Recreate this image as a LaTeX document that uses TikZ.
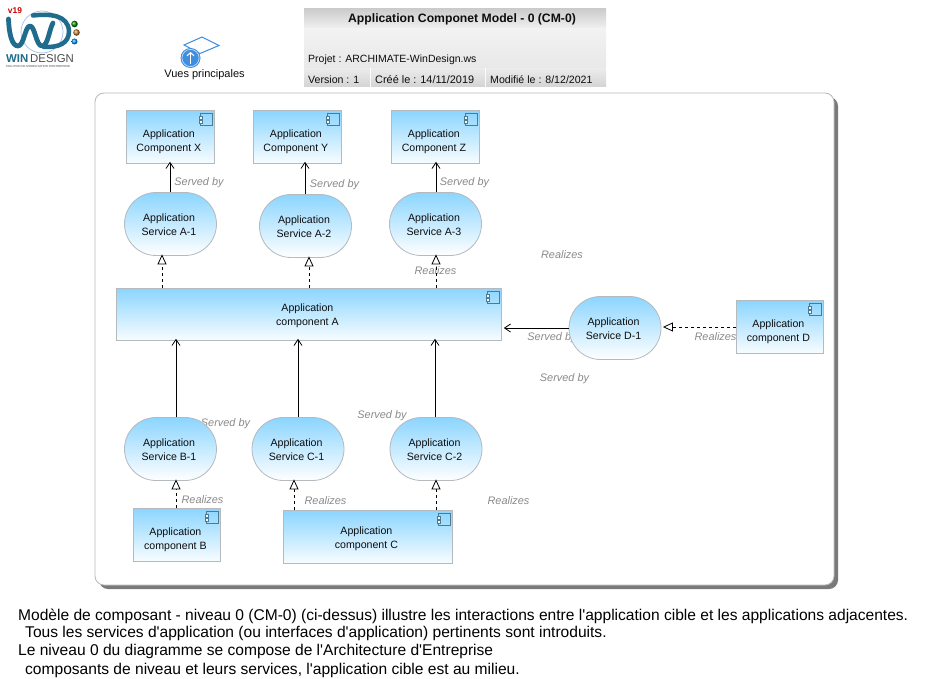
\documentclass[tikz,border=0pt]{standalone}
\usepackage{fontspec}
\setmainfont{Liberation Sans}
\newfontfamily\plainfont{Liberation Sans}
\usetikzlibrary{arrows.meta,shapes.misc}
\definecolor{skytop}{HTML}{8BD5FF}
\definecolor{skybot}{HTML}{F8FDFF}
\definecolor{edgegrey}{HTML}{B4BABD}
\definecolor{lblgrey}{HTML}{8A8A8A}
\definecolor{iconblue}{HTML}{4A7C94}
\definecolor{teal}{HTML}{1F6C8C}
\definecolor{viewblue}{HTML}{3E8FE0}
\newcommand\twolines[3]{\begin{tabular}{@{}c@{\hspace{3pt}}}\noalign{\vskip#1}#2\\#3\end{tabular}}
\newcommand\compicon[1]{%
  \begin{scope}[shift={(#1.north east)}]
    \draw[iconblue,line width=.7pt] (-14,3) rectangle (-2,15);
    \draw[iconblue,line width=.6pt,fill=white] (-15.3,6.5) rectangle (-12.7,9.5);
    \draw[iconblue,line width=.6pt,fill=white] (-15.3,10.5) rectangle (-12.7,13.5);
  \end{scope}}
\tikzset{
  x=1pt,y=-1pt,
  txt/.style={font=\fontsize{10.6}{14}\selectfont,text=black!95},
  comp/.style={txt,draw=edgegrey,line width=.8pt,top color=skytop,bottom color=skybot,inner sep=0pt,anchor=north west,align=center},
  serv/.style={txt,draw=edgegrey,line width=.8pt,top color=skytop,bottom color=white,inner sep=0pt,align=center,
    shape=rounded rectangle,rounded rectangle arc length=180,minimum width=92pt,minimum height=63pt},
  lbl/.style={font=\fontsize{10.9}{12}\selectfont\itshape,text=lblgrey,inner sep=0pt},
  serves/.style={draw=black,line width=.9pt,-{Straight Barb[length=6pt,width=8pt,line width=.8pt]}},
  realizes/.style={draw=black,line width=.9pt,dash pattern=on 3.5pt off 2.5pt,-{Triangle[open,fill=white,length=10pt,width=9pt,line width=.8pt]}},
  tcell/.style={txt,inner sep=0pt,anchor=west},
  note/.style={font=\plainfont\fontsize{15.57}{17}\selectfont,text=black,inner sep=0pt,anchor=west},
}
\begin{document}
\begin{tikzpicture}
\useasboundingbox[fill=white] (0,0) rectangle (939,679);

% logo
\draw[cyan!50!blue!35,line width=.7pt] (42,32) circle (21);
\draw[teal,line width=4.8pt,line cap=round,line join=round]
  (8.5,19) .. controls (9,34) and (12,46) .. (18,46) .. controls (24,46) and (25,26) .. (30,26)
  .. controls (35,26) and (36,46) .. (42,46) .. controls (48,46) and (49,30) .. (53,23);
\draw[teal,line width=4.5pt,line cap=round] (33,15.5) .. controls (50,13.5) and (68,15) .. (69,31) .. controls (69,44) and (58,47.5) .. (44,47);
\node[font=\bfseries\fontsize{8.4}{8}\selectfont,text=red!80!black,inner sep=0pt] (vlogo) at (15,11) {v19};
\shade[ball color=green!55!black] (74.5,24) circle (3.3);
\shade[ball color=brown!90!orange] (76.5,32.5) circle (3.3);
\shade[ball color=cyan!60!blue] (74.5,41.5) circle (3);
\node[font=\fontsize{11.4}{10}\selectfont,inner sep=0pt,text=teal] (wdname) at (40,58.5) {\textbf{WIN}\,{\color{black!70}DESIGN}};
\node[font=\plainfont\fontsize{2.9}{4}\selectfont,inner sep=0pt,text=black!70] (wdsub) at (38,66.5) {SOLUTION DE MODELISATION D'ENTREPRISE};

% views icon
\draw[viewblue,line width=1pt,fill=white] (184,45) -- (202,37) -- (219,45.5) -- (200,53.5) -- cycle;
\fill[viewblue] (190.5,58) circle (10);
\draw[white!70!viewblue,line width=.7pt] (190.5,58) circle (8.6);
\draw[white,line width=1.1pt,-{Straight Barb[length=3pt,width=7pt]}] (190.5,64) -- (190.5,52);
\node[txt,font=\fontsize{11}{14}\selectfont,inner sep=0pt] (views) at (204.5,74.5) {Vues principales};

% title block
\shade[top color=black!20,bottom color=black!6] (304,9) rectangle (606,28);
\shade[top color=black!5,middle color=white,bottom color=black!9] (304,29) rectangle (606,68);
\shade[top color=black!8,bottom color=black!17] (304,69) rectangle (370,87);
\shade[top color=black!8,bottom color=black!17] (371,69) rectangle (485,87);
\shade[top color=black!8,bottom color=black!17] (486,69) rectangle (606,87);
\node[txt,font=\bfseries\fontsize{12.2}{12}\selectfont,inner sep=0pt] (title) at (462,19.5) {Application Componet Model - 0 (CM-0)};
\node[tcell,font=\fontsize{10.5}{14}\selectfont] (proj) at (308,60) {Projet : ARCHIMATE-WinDesign.ws};
\node[tcell] (ver) at (308,80) {Version : 1};
\node[tcell,font=\fontsize{10.9}{14}\selectfont] (cree) at (375,80) {Créé le : 14/11/2019};
\node[tcell] (modif) at (490,80) {Modifié le : 8/12/2021};

% container
\fill[black!52,rounded corners=9pt] (99,97) rectangle (838,589);
\draw[edgegrey,fill=white,line width=.8pt,rounded corners=9pt] (95,93) rectangle (834,585);

% labels (behind nodes)
\node[lbl] (l1) at (199,183) {Served by};
\node[lbl] (l2) at (334.5,185) {Served by};
\node[lbl] (l3) at (464.5,183) {Served by};
\node[lbl] (l4) at (562,255) {Realizes};
\node[lbl] (l5) at (435.5,271) {Realizes};
\node[lbl] (l6) at (552,338) {Served by};
\node[lbl] (l7) at (715.5,337) {Realizes};
\node[lbl] (l8) at (564.5,379) {Served by};
\node[lbl] (l9) at (225.5,424) {Served by};
\node[lbl] (l10) at (382,416) {Served by};
\node[lbl] (l11) at (202.5,500) {Realizes};
\node[lbl] (l12) at (325.5,501) {Realizes};
\node[lbl] (l13) at (508.5,501) {Realizes};

% components
\node[comp,minimum width=88pt,minimum height=53pt] (cx) at (126,110) {\twolines{10pt}{Application}{Component X}};
\node[comp,minimum width=88pt,minimum height=53pt] (cy) at (253,110) {\twolines{10pt}{Application}{Component Y}};
\node[comp,minimum width=88pt,minimum height=53pt] (cz) at (391,110) {\twolines{10pt}{Application}{Component Z}};
\node[comp,minimum width=385pt,minimum height=52pt] (ca) at (116,288) {\twolines{2pt}{Application}{component A}};
\node[comp,minimum width=87pt,minimum height=53pt] (cd) at (736,300) {\twolines{10pt}{Application}{component D}};
\node[comp,minimum width=87pt,minimum height=53pt] (cb) at (133,508) {\twolines{10pt}{Application}{component B}};
\node[comp,minimum width=169pt,minimum height=53pt] (cc) at (283,510) {\twolines{3pt}{Application}{component C}};

% services
\node[serv] (sa1) at (170.5,224) {\twolines{4pt}{Application}{Service A-1}};
\node[serv] (sa2) at (305.5,226) {\twolines{4pt}{Application}{Service A-2}};
\node[serv] (sa3) at (435.5,224) {\twolines{4pt}{Application}{Service A-3}};
\node[serv] (sd1) at (615,328) {\twolines{4pt}{Application}{Service D-1}};
\node[serv] (sb1) at (170.5,449) {\twolines{4pt}{Application}{Service B-1}};
\node[serv] (sc1) at (298,449) {\twolines{4pt}{Application}{Service C-1}};
\node[serv] (sc2) at (436,449) {\twolines{4pt}{Application}{Service C-2}};

\compicon{cx}\compicon{cy}\compicon{cz}\compicon{ca}\compicon{cd}\compicon{cb}\compicon{cc}

% connectors
\draw[serves] (sa1.north -| 170,0) -- ([yshift=2pt]cx.south -| 170,0);
\draw[serves] (sa2.north -| 305,0) -- ([yshift=2pt]cy.south -| 305,0);
\draw[serves] (sa3.north -| 436,0) -- ([yshift=2pt]cz.south -| 436,0);
\draw[realizes] (ca.north -| 162,0) -- ([yshift=1.5pt]sa1.south -| 162,0);
\draw[realizes] (ca.north -| 309,0) -- ([yshift=1.5pt]sa2.south -| 309,0);
\draw[realizes] (ca.north -| 436,0) -- ([yshift=1.5pt]sa3.south -| 436,0);
\draw[serves] (sb1.north -| 176,0) -- ([yshift=2pt]ca.south -| 176,0);
\draw[serves] (sc1.north -| 298,0) -- ([yshift=2pt]ca.south -| 298,0);
\draw[serves] (sc2.north -| 435,0) -- ([yshift=2pt]ca.south -| 435,0);
\draw[serves] (sd1.west |- 0,328) -- ([xshift=2pt]ca.east |- 0,328);
\draw[realizes] (cd.west |- 0,327) -- ([xshift=1.5pt]sd1.east |- 0,327);
\draw[realizes] (cb.north -| 176,0) -- ([yshift=1.5pt]sb1.south -| 176,0);
\draw[realizes] (cc.north -| 294,0) -- ([yshift=1.5pt]sc1.south -| 294,0);
\draw[realizes] (cc.north -| 436,0) -- ([yshift=1.5pt]sc2.south -| 436,0);

% notes
\node[note] (n1) at (18,616) {Modèle de composant - niveau 0 (CM-0) (ci-dessus) illustre les interactions entre l'application cible et les applications adjacentes.};
\node[note] (n2) at (25,633.5) {Tous les services d'application (ou interfaces d'application) pertinents sont introduits.};
\node[note] (n3) at (18,651.5) {Le niveau 0 du diagramme se compose de l'Architecture d'Entreprise};
\node[note] (n4) at (25,670) {composants de niveau et leurs services, l'application cible est au milieu.};
\end{tikzpicture}
\end{document}
